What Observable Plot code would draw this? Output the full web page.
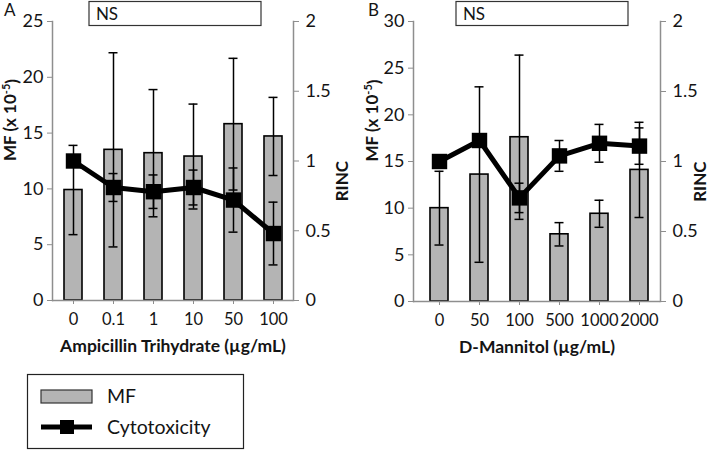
<!DOCTYPE html>
<html>
<head>
<meta charset="utf-8">
<script src="https://cdn.jsdelivr.net/npm/d3@7"></script>
<script src="https://cdn.jsdelivr.net/npm/@observablehq/plot@0.6"></script>
<style>
  html, body { margin: 0; padding: 0; background: #fff; }
  #wrap { width: 709px; height: 450px; position: relative; font-family: Lato, "Open Sans", sans-serif; }
  #row { display: flex; }
  #legend { position: absolute; left: 0; top: 360px; }
  .letter { position: absolute; top: 0px; font-size: 17px; line-height: 20px; color: #141414; }
</style>
</head>
<body>
<div id="wrap">
  <div id="row"></div>
  <div id="legend"></div>
  <div class="letter" id="letterA" style="left:4px"></div>
  <div class="letter" id="letterB" style="left:368px"></div>
</div>
<script>
// ---- Data ----
const catsA = ["0", "0.1", "1", "10", "50", "100"];
const mfA = [9.9, 13.5, 13.2, 12.9, 15.8, 14.7];
const mfSdA = [4.0, 8.7, 5.7, 4.7, 5.9, 3.5];
const rincA = [1.0, 0.81, 0.78, 0.81, 0.72, 0.48];
const rincSdA = [0, 0.10, 0.12, 0.125, 0.23, 0.225];

const catsB = ["0", "50", "100", "500", "1000", "2000"];
const mfB = [10.0, 13.6, 17.6, 7.2, 9.4, 14.1];
const mfSdB = [3.95, 9.4, 8.8, 1.25, 1.45, 5.1];
const rincB = [1.0, 1.15, 0.74, 1.04, 1.13, 1.11];
const rincSdB = [0, 0.04, 0.105, 0.11, 0.135, 0.13];

const rincTicks = [0, 0.5, 1, 1.5, 2];
const xLabelA = "Ampicillin Trihydrate (µg/mL)";
const xLabelB = "D-Mannitol (µg/mL)";
const yLabelLeft = "MF (x 10-5)";
const yLabelRight = "RINC";
const legendLabels = ["MF", "Cytotoxicity"];
const panelLetters = ["A", "B"];

const TXT = "#141414", AX = "#8e8e8e", BAR = "#b4b4b4";
const FONT = "Lato, 'Open Sans', sans-serif";

function panel(o) {
  const k = o.yMax / 2;
  const rows = o.cats.map((c, i) => ({
    c, mf: o.mf[i], sd: o.mfSd[i], r: o.rinc[i] * k, rsd: o.rincSd[i] * k
  }));
  const rerr = rows.filter(d => d.rsd > 0);
  const cap = {insetLeft: 4.5, insetRight: 4.5, stroke: "black", strokeWidth: 1.5};
  const svg = Plot.plot({
    width: o.width, height: 360,
    marginLeft: o.ml, marginRight: o.mr, marginTop: 21, marginBottom: o.mb,
    style: {fontFamily: FONT, fontSize: "18px", color: TXT, background: "white"},
    x: {domain: o.cats, paddingInner: 0.55, paddingOuter: o.po, align: o.align, label: null},
    y: {domain: [0, o.yMax], label: null},
    marks: [
      Plot.barY(rows, {x: "c", y: "mf", fill: BAR, stroke: "black", strokeWidth: 1.6}),
      Plot.ruleX(rows, {x: "c", y1: d => d.mf - d.sd, y2: d => d.mf + d.sd, stroke: "black", strokeWidth: 1.5}),
      Plot.tickY(rows, {x: "c", y: d => d.mf + d.sd, ...cap}),
      Plot.tickY(rows, {x: "c", y: d => d.mf - d.sd, ...cap}),
      Plot.line(rows, {x: "c", y: "r", stroke: "black", strokeWidth: 5}),
      Plot.dot(rows, {x: "c", y: "r", symbol: "square", r: 8.7, fill: "black", stroke: "none"}),
      Plot.ruleX(rerr, {x: "c", y1: d => d.r - d.rsd, y2: d => d.r + d.rsd, stroke: "black", strokeWidth: 1.5}),
      Plot.tickY(rerr, {x: "c", y: d => d.r + d.rsd, ...cap}),
      Plot.tickY(rerr, {x: "c", y: d => d.r - d.rsd, ...cap}),
      Plot.ruleY([0], {stroke: AX, strokeWidth: 1.5}),
      Plot.frame({anchor: "left", stroke: AX, strokeWidth: 1.5}),
      Plot.frame({anchor: "right", stroke: AX, strokeWidth: 1.5}),
      Plot.axisY({ticks: d3.range(0, o.yMax + 1, 5), tickSize: 5, tickPadding: 4, stroke: AX, fill: TXT, label: null}),
      Plot.axisY({anchor: "right", ticks: rincTicks.map(v => v * k), tickFormat: d => String(+(d / k).toFixed(2)), tickSize: 5, tickPadding: 7, stroke: AX, fill: TXT, label: null}),
      Plot.axisX({tickSize: 4, tickPadding: 9, stroke: AX, fill: TXT, label: null, fontSize: 16.5}),
      Plot.text([o.xLabel], {frameAnchor: "bottom", dy: 51, fontWeight: "bold", fill: TXT, fontSize: 17.5}),
      Plot.text([yLabelLeft], {frameAnchor: "left", dx: o.leftDx, rotate: -90, fontWeight: "bold", fill: TXT, fontSize: 17}),
      Plot.text([yLabelRight], {frameAnchor: "right", dx: o.rightDx, rotate: -90, fontWeight: "bold", fill: TXT, fontSize: 17})
    ]
  });
  const s = d3.select(svg);
  // superscript for the MF label
  s.selectAll("text").filter(function() { return this.textContent === yLabelLeft; }).each(function() {
    const t = d3.select(this);
    t.text(null);
    t.append("tspan").text("MF (x 10");
    t.append("tspan").text("-5").attr("font-size", "11px").attr("dy", "-0.55em");
    t.append("tspan").text(")").attr("dy", "0.5em");
  });
  // NS annotation
  s.append("rect").attr("x", o.nsX).attr("y", 1.5).attr("width", 172).attr("height", 24)
    .attr("fill", "white").attr("stroke", "#333").attr("stroke-width", 1.2);
  s.append("text").attr("x", o.nsX + 18).attr("y", 20).attr("font-size", "17px").attr("fill", TXT).text("NS");
  return svg;
}

const row = document.getElementById("row");
row.appendChild(panel({
  cats: catsA, mf: mfA, mfSd: mfSdA, rinc: rincA, rincSd: rincSdA, yMax: 25,
  width: 355, ml: 52, mr: 62, mb: 60, po: 0.27, align: 0.5,
  xLabel: xLabelA, leftDx: -42, rightDx: 49, nsX: 89
}));
row.appendChild(panel({
  cats: catsB, mf: mfB, mfSd: mfSdB, rinc: rincB, rincSd: rincSdB, yMax: 30,
  width: 354, ml: 58, mr: 49, mb: 59, po: 0.35, align: 0.57,
  xLabel: xLabelB, leftDx: -41, rightDx: 40, nsX: 101
}));
document.getElementById("letterA").textContent = panelLetters[0];
document.getElementById("letterB").textContent = panelLetters[1];

// Legend
const lg = d3.select("#legend").append("svg").attr("width", 709).attr("height", 90);
lg.append("rect").attr("x", 27.5).attr("y", 14.5).attr("width", 216).attr("height", 74)
  .attr("fill", "white").attr("stroke", "#222").attr("stroke-width", 1.2);
lg.append("rect").attr("x", 41).attr("y", 30).attr("width", 51).attr("height", 13)
  .attr("fill", BAR).attr("stroke", "#333").attr("stroke-width", 1.2);
lg.append("line").attr("x1", 41).attr("x2", 92).attr("y1", 67).attr("y2", 67)
  .attr("stroke", "black").attr("stroke-width", 5);
lg.append("rect").attr("x", 60).attr("y", 60).attr("width", 14).attr("height", 14).attr("fill", "black");
lg.append("text").attr("x", 107).attr("y", 43).attr("font-size", "19.5px").attr("fill", TXT)
  .attr("font-family", FONT).text(legendLabels[0]);
lg.append("text").attr("x", 107).attr("y", 74).attr("font-size", "19.5px").attr("fill", TXT)
  .attr("font-family", FONT).text(legendLabels[1]);
</script>
</body>
</html>
